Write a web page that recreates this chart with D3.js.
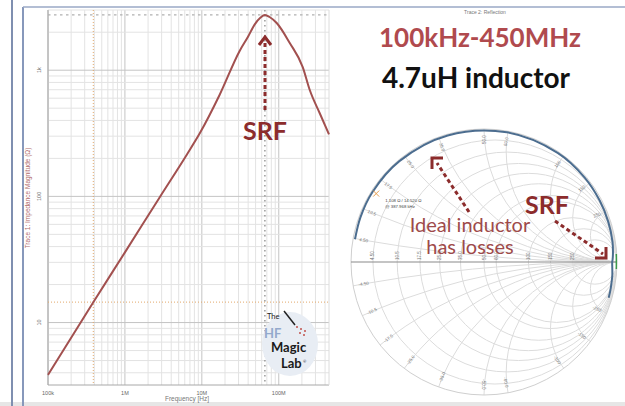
<!DOCTYPE html>
<html>
<head>
<meta charset="utf-8">
<script src="https://cdn.jsdelivr.net/npm/d3@7"></script>
<style>
  body { margin: 0; background: #fff; }
  svg { display: block; }
</style>
</head>
<body>
<div id="chart"></div>
<script>
// Trace 1: impedance magnitude of the 4.7uH inductor (Hz / Ohm)
const freqHz = [1e5, 3.88e5, 1e6, 2.85e6, 6.4e6, 9.4e6, 17e6, 31e6, 40e6, 49e6, 58e6, 66e6, 76e6, 94e6, 139e6, 205e6, 253e6, 340e6, 450e6];
const impedanceOhm = [3.85, 14.5, 36, 99, 215, 316, 636, 1420, 1850, 2320, 2616, 2740, 2640, 2366, 1643, 1059, 697, 458, 310];

const freqTicks = [1e5, 1e6, 1e7, 1e8];
const freqTickLabels = ["100k", "1M", "10M", "100M"];
const zTicks = [10, 100, 1000];
const zTickLabels = ["10", "100", "1k"];

// Trace 2: reflection, angle (deg) and magnitude of gamma
const gammaAngleDeg = [170, 160, 148, 130, 106, 80, 56, 40, 28, 18, 9, 4, 1, 0, -3, -6, -10, -13, -16];
const gammaMag = [0.985, 0.988, 0.99, 0.99, 0.99, 0.99, 0.99, 0.988, 0.985, 0.982, 0.978, 0.972, 0.967, 0.964, 0.966, 0.97, 0.972, 0.974, 0.975];

// smith grid values in ohms (50 ohm reference)
const smithGridOhm = [4.5, 10.5, 17.5, 25, 35, 50, 60, 100, 150, 250];
const z0 = 50;

// markers
const cursorFreq = 387968;
const cursorZ = 14.52;
const srfFreq = 66e6;
const peakZ = 2740;

const W = 625, H = 406;
const svg = d3.select("#chart").append("svg")
    .attr("width", W)
    .attr("height", H)
    .style("font-family", "'Liberation Sans', Arial, sans-serif");

// frames
svg.append("rect").attr("x", 0).attr("y", 402).attr("width", W).attr("height", 4).attr("fill", "#e6e6e6");
svg.append("line").attr("x1", 12).attr("x2", 12).attr("y1", 0).attr("y2", H)
    .attr("stroke", "#7f8fb0").attr("stroke-width", 2);
svg.append("line").attr("x1", 23).attr("x2", 23).attr("y1", 7).attr("y2", H)
    .attr("stroke", "#8798bb").attr("stroke-width", 2);
svg.append("line").attr("x1", 23).attr("x2", W).attr("y1", 7).attr("y2", 7)
    .attr("stroke", "#9aa9c6").attr("stroke-width", 1.5);

// ---------- left plot: impedance magnitude ----------
const plot = { left: 48, right: 329, top: 10, bottom: 385 };
const x = d3.scaleLog().domain([1e5, 4.5e8]).range([plot.left, plot.right]);
const y = d3.scaleLog().domain([3.2, 3000]).range([plot.bottom, plot.top]);

const g = svg.append("g");

// minor / major grid
const xGrid = [];
for (let k = 5; k <= 8; k++) for (let d = 1; d <= 9; d++) {
    const v = d * Math.pow(10, k);
    if (v <= 4.5e8) xGrid.push({ v, major: d === 1 });
}
const yGrid = [];
for (let k = 0; k <= 3; k++) for (let d = 1; d <= 9; d++) {
    const v = d * Math.pow(10, k);
    if (v >= 3.2 && v <= 3000) yGrid.push({ v, major: d === 1 });
}
g.selectAll(".xg").data(xGrid).join("line")
    .attr("x1", d => x(d.v)).attr("x2", d => x(d.v))
    .attr("y1", plot.top).attr("y2", plot.bottom)
    .attr("stroke", d => d.major ? "#c4c4c4" : "#e3e3e3").attr("stroke-width", 1);
g.selectAll(".yg").data(yGrid).join("line")
    .attr("x1", plot.left).attr("x2", plot.right)
    .attr("y1", d => y(d.v)).attr("y2", d => y(d.v))
    .attr("stroke", d => d.major ? "#c4c4c4" : "#e3e3e3").attr("stroke-width", 1);

// axes lines
g.append("line").attr("x1", plot.left).attr("x2", plot.left).attr("y1", plot.top).attr("y2", plot.bottom)
    .attr("stroke", "#a8a8a8");
g.append("line").attr("x1", plot.left).attr("x2", plot.right).attr("y1", plot.bottom).attr("y2", plot.bottom)
    .attr("stroke", "#a8a8a8");
g.append("line").attr("x1", plot.right).attr("x2", plot.right).attr("y1", plot.top).attr("y2", plot.bottom)
    .attr("stroke", "#dcdcdc");

// cursor lines
g.append("line").attr("x1", x(cursorFreq)).attr("x2", x(cursorFreq)).attr("y1", plot.top).attr("y2", plot.bottom)
    .attr("stroke", "#e2a86a").attr("stroke-width", 1).attr("stroke-dasharray", "1,2");
g.append("line").attr("x1", plot.left).attr("x2", plot.right).attr("y1", y(cursorZ)).attr("y2", y(cursorZ))
    .attr("stroke", "#e2a86a").attr("stroke-width", 1).attr("stroke-dasharray", "1,2");
g.append("line").attr("x1", x(srfFreq)).attr("x2", x(srfFreq)).attr("y1", plot.top).attr("y2", plot.bottom)
    .attr("stroke", "#9a9a9a").attr("stroke-width", 1.5).attr("stroke-dasharray", "1.5,3.5");
g.append("line").attr("x1", plot.left).attr("x2", plot.right).attr("y1", y(peakZ)).attr("y2", y(peakZ))
    .attr("stroke", "#b0b0b0").attr("stroke-width", 1.2).attr("stroke-dasharray", "2.5,3.5");

// tick labels
g.selectAll(".xl").data(freqTicks).join("text")
    .attr("x", d => x(d)).attr("y", 395)
    .attr("text-anchor", "middle").attr("font-size", 5.5).attr("fill", "#666")
    .text((d, i) => freqTickLabels[i]);
g.append("text").attr("x", 187).attr("y", 401).attr("text-anchor", "middle")
    .attr("font-size", 6.5).attr("fill", "#777").text("Frequency [Hz]");
g.selectAll(".yl").data(zTicks).join("text")
    .attr("transform", d => `translate(41,${y(d)}) rotate(-90)`)
    .attr("text-anchor", "middle").attr("font-size", 5.5).attr("fill", "#666")
    .text((d, i) => zTickLabels[i]);
g.append("text").attr("transform", "translate(30,198) rotate(-90)")
    .attr("text-anchor", "middle").attr("font-size", 6.5).attr("fill", "#b06a6a")
    .text("Trace 1: Impedance Magnitude (Ω)");

// impedance curve
const line = d3.line()
    .x((d, i) => x(freqHz[i]))
    .y(d => y(d))
    .curve(d3.curveMonotoneX);
g.append("path")
    .datum(impedanceOhm)
    .attr("d", line)
    .attr("fill", "none")
    .attr("stroke", "#a2504f")
    .attr("stroke-width", 2);

// logo
const logo = svg.append("g").attr("font-family", "Lato, sans-serif");
logo.append("ellipse").attr("cx", 290).attr("cy", 344).attr("rx", 28).attr("ry", 32).attr("fill", "#e8edf4");
logo.append("text").attr("x", 267).attr("y", 319).attr("font-size", 7.5).attr("fill", "#222").text("The");
logo.append("line").attr("x1", 284).attr("y1", 311).attr("x2", 295).attr("y2", 325).attr("stroke", "#222").attr("stroke-width", 1.5);
[[297, 327], [301, 329], [305, 331], [300, 333], [304, 335]].forEach(p => {
    logo.append("circle").attr("cx", p[0]).attr("cy", p[1]).attr("r", 1).attr("fill", "#c0504d");
});
logo.append("text").attr("x", 264).attr("y", 338).attr("font-size", 13).attr("font-weight", "bold")
    .attr("fill", "#93a9cc").text("HF");
logo.append("text").attr("x", 271).attr("y", 352).attr("font-size", 13).attr("font-weight", "bold")
    .attr("fill", "#1a1a1a").text("Magic");
logo.append("text").attr("x", 281).attr("y", 368).attr("font-size", 13).attr("font-weight", "bold")
    .attr("fill", "#1a1a1a").text("Lab");
logo.append("text").attr("x", 303).attr("y", 363).attr("font-size", 4).attr("fill", "#1a1a1a").text("®");

// ---------- right: smith chart ----------
const sx = d3.scaleLinear().domain([-1, 1]).range([351, 617]);
const sy = d3.scaleLinear().domain([-1, 1]).range([395, 129]);
const R = sx(1) - sx(0);
const cx = sx(0), cy = sy(0);

svg.append("text").attr("x", 485).attr("y", 14).attr("text-anchor", "middle")
    .attr("font-size", 5).attr("fill", "#777").text("Trace 2: Reflection");

svg.append("clipPath").attr("id", "unit").append("circle")
    .attr("cx", cx).attr("cy", cy).attr("r", R);
const sg = svg.append("g");
const grid = sg.append("g").attr("clip-path", "url(#unit)");

// constant resistance circles
grid.selectAll(".rc").data(smithGridOhm).join("circle")
    .attr("cx", d => sx((d / z0) / (d / z0 + 1)))
    .attr("cy", cy)
    .attr("r", d => R / (d / z0 + 1))
    .attr("fill", "none").attr("stroke", "#dcdcdc").attr("stroke-width", 1);
// constant reactance arcs
const xArcs = smithGridOhm.flatMap(v => [v, -v]);
grid.selectAll(".xc").data(xArcs).join("circle")
    .attr("cx", sx(1))
    .attr("cy", d => sy(z0 / d))
    .attr("r", d => R * Math.abs(z0 / d))
    .attr("fill", "none").attr("stroke", "#dcdcdc").attr("stroke-width", 1);

sg.append("circle").attr("cx", cx).attr("cy", cy).attr("r", R)
    .attr("fill", "none").attr("stroke", "#cfcfcf").attr("stroke-width", 1);
sg.append("line").attr("x1", sx(-1)).attr("x2", sx(1)).attr("y1", cy).attr("y2", cy)
    .attr("stroke", "#8a8a8a").attr("stroke-width", 1.2);

// resistance labels on the real axis
sg.selectAll(".rl").data(smithGridOhm).join("text")
    .attr("transform", d => {
        const r = d / z0;
        return `translate(${sx((r - 1) / (r + 1)) + 1.5},${cy - 2}) rotate(-90)`;
    })
    .attr("font-size", 4.5).attr("fill", "#777")
    .text(d => d.toPrecision(3));

// reactance labels along the rim
const rimLabels = xArcs.map(v => {
    const a = Math.PI - 2 * Math.atan(Math.abs(v) / z0);
    const phi = v > 0 ? a : -a;
    return { v, phi };
});
sg.selectAll(".xl").data(rimLabels).join("text")
    .attr("transform", d => {
        const px = sx(0.92 * Math.cos(d.phi)), py = sy(0.92 * Math.sin(d.phi));
        let rot = -d.phi * 180 / Math.PI;
        if (rot > 90) rot -= 180;
        if (rot < -90) rot += 180;
        return `translate(${px},${py}) rotate(${rot})`;
    })
    .attr("text-anchor", "middle").attr("dy", "0.35em")
    .attr("font-size", 4.5).attr("fill", "#777")
    .text(d => (d.v < 0 ? "-" : "") + Math.abs(d.v).toPrecision(3));

// reflection trace
const trace = d3.line()
    .x((d, i) => sx(gammaMag[i] * Math.cos(d * Math.PI / 180)))
    .y((d, i) => sy(gammaMag[i] * Math.sin(d * Math.PI / 180)))
    .curve(d3.curveCatmullRom);
sg.append("path")
    .datum(gammaAngleDeg)
    .attr("d", trace)
    .attr("fill", "none")
    .attr("stroke", "#4c6d8f")
    .attr("stroke-width", 2);

// cursor marker on trace
const zc = { r: 1.108 / z0, x: cursorZ / z0 };
const den = (zc.r + 1) ** 2 + zc.x ** 2;
const gRe = (zc.r * zc.r + zc.x * zc.x - 1) / den, gIm = 2 * zc.x / den;
sg.append("path")
    .attr("d", `M${sx(gRe) - 3},${sy(gIm) - 3}L${sx(gRe) + 3},${sy(gIm) + 3}M${sx(gRe) - 3},${sy(gIm) + 3}L${sx(gRe) + 3},${sy(gIm) - 3}`)
    .attr("stroke", "#e8a050").attr("stroke-width", 1);
sg.append("text").attr("x", sx(gRe) + 9).attr("y", sy(gIm) + 8)
    .attr("font-size", 4.3).attr("fill", "#444").text("1.108 Ω / 14.520 Ω");
sg.append("text").attr("x", sx(gRe) + 9).attr("y", sy(gIm) + 14)
    .attr("font-size", 4.3).attr("fill", "#444").text("@ 387.968 kHz");
// SRF marker
sg.append("line").attr("x1", sx(0.995)).attr("x2", sx(0.995)).attr("y1", cy - 8).attr("y2", cy + 7)
    .attr("stroke", "#3c9a4a").attr("stroke-width", 1.5);

// ---------- annotations ----------
const maroon = "#8c2c2c";
const ann = svg.append("g").attr("font-family", "Lato, 'Open Sans', sans-serif");

ann.append("text").attr("x", 480).attr("y", 47).attr("text-anchor", "middle")
    .attr("font-size", 26).attr("font-weight", "bold").attr("fill", "#b04a4e").text("100kHz-450MHz");
ann.append("text").attr("x", 476).attr("y", 88).attr("text-anchor", "middle")
    .attr("font-size", 28).attr("font-weight", "bold").attr("fill", "#111").text("4.7uH inductor");

ann.append("text").attr("x", 265).attr("y", 140).attr("text-anchor", "middle")
    .attr("font-size", 25).attr("font-weight", "bold").attr("fill", maroon).text("SRF");
ann.append("text").attr("x", 547).attr("y", 214).attr("text-anchor", "middle")
    .attr("font-size", 25).attr("font-weight", "bold").attr("fill", maroon).text("SRF");

ann.append("text").attr("x", 470).attr("y", 232).attr("text-anchor", "middle")
    .attr("font-size", 20).attr("fill", "#9e4a4a").text("Ideal inductor");
ann.append("text").attr("x", 470).attr("y", 254).attr("text-anchor", "middle")
    .attr("font-size", 20).attr("fill", "#9e4a4a").text("has losses");

const dotted = (x1, y1, x2, y2) => ann.append("line")
    .attr("x1", x1).attr("y1", y1).attr("x2", x2).attr("y2", y2)
    .attr("stroke", maroon).attr("stroke-width", 3).attr("stroke-dasharray", "4,3");
const head = pts => ann.append("polyline")
    .attr("points", pts.map(p => p.join(",")).join(" "))
    .attr("fill", "none").attr("stroke", maroon).attr("stroke-width", 3);

dotted(265, 110, 265, 42);
head([[259, 45], [265, 37], [271, 45]]);
dotted(555, 221, 603, 254);
head([[595, 258], [606, 258], [606, 247]]);
dotted(469, 212, 437, 163);
head([[432, 169], [432, 158], [443, 158]]);
</script>
</body>
</html>
